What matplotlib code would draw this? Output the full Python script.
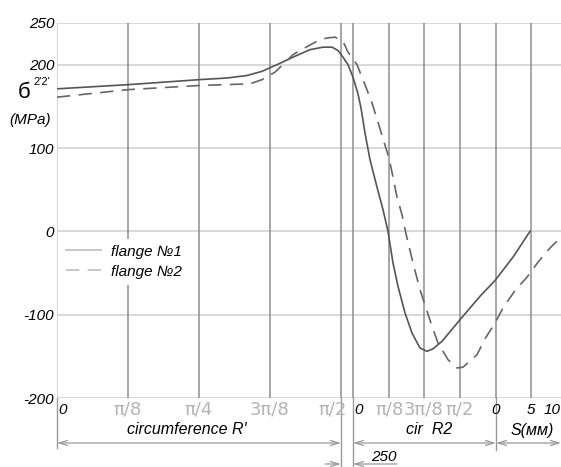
import numpy as np
import matplotlib
matplotlib.use('Agg')
from matplotlib import pyplot as plt
from matplotlib.lines import Line2D
import matplotlib.transforms as mtransforms

plt.rcParams['font.family'] = ['Liberation Sans', 'DejaVu Sans']

# x axis is a drawing length (px of the original sheet), 0 = start of circumference R'
grid_x = [0, 71, 142, 213, 284, 296, 332, 367, 403, 439, 474]
y_ticks = [250, 200, 100, 0, -100, -200]

# flange No1 (solid)
x1 = [0, 71, 142, 170, 190, 205, 220, 236, 253, 266, 275, 281, 286, 291, 296, 301, 304, 308,
      313, 320, 326, 331, 336, 341, 348, 355, 363, 370, 376, 385, 403, 423, 438, 456, 473]
y1 = [171, 176, 182, 184, 187, 192, 200, 209, 218, 221, 221, 217, 209, 200, 185, 165, 148,
      118, 86, 53, 26, 0, -38, -66, -98, -122, -140, -144, -141, -132, -106, -78, -59, -31, 0]

# flange No2 (dashed)
x2 = [0, 71, 142, 193, 205, 218, 236, 246, 263, 270, 278, 286, 291, 300, 308, 315, 321,
      326, 332, 336, 340, 345, 349, 356, 363, 369, 375, 381, 391, 400, 406, 420, 428,
      438, 446, 458, 470, 481, 493, 504]
y2 = [161, 170, 175, 177, 182, 191, 212, 219, 230, 232, 233, 228, 215, 200, 176, 154, 131,
      111, 88, 65, 41, 20, -3, -38, -70, -92, -114, -134, -154, -164, -163, -148, -129,
      -110, -92, -71, -55, -37, -20, -7]

bottom_labels = ['0', 'π/8', 'π/4', '3π/8', 'π/2', '0', 'π/8', '3π/8', 'π/2', '0', '5', '10']
label_x = [1, 71, 142, 213, 276, 297, 332, 367, 403, 439, 474, 504]
label_ha = ['left', 'center', 'center', 'center', 'center', 'left', 'center', 'center',
            'center', 'center', 'center', 'right']

W, H = 561, 467
fig = plt.figure(figsize=(W / 100, H / 100), dpi=100)
ax = fig.add_axes([57 / W, (H - 398) / H, 504 / W, 375 / H])
ax.set_xlim(0, 504)
ax.set_ylim(-200, 250)

for s in ax.spines.values():
    s.set_visible(False)

for yv in y_ticks:
    ax.axhline(yv, color='#d2d2d2', lw=1.2, zorder=1)
ax.axvline(0, color='#cfcfcf', lw=1.2, zorder=1)
for xv in grid_x[1:]:
    ax.axvline(xv, color='#8e8e8e', lw=1.1, zorder=1)

ax.plot(x1, y1, color='#555555', lw=1.2, zorder=3)
ax.plot(x2, y2, color='#666666', lw=1.2, ls=(0, (8, 5)), zorder=3)

ax.set_yticks(y_ticks)
ax.set_yticklabels([str(v) for v in y_ticks], fontstyle='italic', fontsize=11)
ax.tick_params(axis='y', length=0, pad=2)
ax.set_xticks([])

handles = [Line2D([], [], color='#bdbdbd', lw=1.2),
           Line2D([], [], color='#bdbdbd', lw=1.2, ls=(0, (8, 5)))]
leg = ax.legend(handles, ['flange №1', 'flange №2'], loc='upper left',
                bbox_to_anchor=(0.005, 0.425), borderaxespad=0, frameon=True,
                fancybox=False, edgecolor='none', facecolor='white', framealpha=1,
                handlelength=2.3, handletextpad=0.7, labelspacing=0.4,
                prop={'style': 'italic', 'size': 11})
leg.set_zorder(5)

trans = mtransforms.blended_transform_factory(ax.transData, ax.transAxes)


def ay(p):
    return (398 - p) / 375


for lab, lx, ha in zip(bottom_labels, label_x, label_ha):
    if 'π' in lab:
        ax.text(lx, ay(410), lab, transform=trans, ha=ha, va='center', fontsize=13,
                color='#b4b4b4', family='DejaVu Sans', clip_on=False)
    else:
        ax.text(lx, ay(410), lab, transform=trans, ha=ha, va='center', fontsize=11,
                fontstyle='italic', color='black', clip_on=False)

ax.text(130, ay(430), "circumference R'", transform=trans, ha='center', va='center',
        fontsize=11.5, fontstyle='italic', clip_on=False)
ax.text(372, ay(430), "cir  R2", transform=trans, ha='center', va='center',
        fontsize=11.5, fontstyle='italic', clip_on=False)
ax.text(475, ay(430), "S(мм)", transform=trans, ha='center', va='center',
        fontsize=11.5, fontstyle='italic', clip_on=False)
ax.text(327, ay(457), "250", transform=trans, ha='center', va='center',
        fontsize=11, fontstyle='italic', clip_on=False)

# extension lines
dim_col = '#9a9a9a'
for xv, yb in [(0, 448), (284, 470), (296, 470), (439, 450)]:
    ax.plot([xv, xv], [ay(398), ay(yb)], transform=trans, color=dim_col, lw=1.0,
            clip_on=False)

arrow = dict(arrowstyle='<->,head_length=0.6,head_width=0.18', color=dim_col, lw=0.9,
             shrinkA=0, shrinkB=0)
for xa, xb in [(0, 284), (296, 439), (439, 504)]:
    ax.annotate('', xy=(xb, ay(443)), xytext=(xa, ay(443)), xycoords=trans,
                textcoords=trans, arrowprops=arrow, annotation_clip=False)

one = dict(arrowstyle='->,head_length=0.6,head_width=0.18', color=dim_col, lw=0.9,
           shrinkA=0, shrinkB=0)
ax.annotate('', xy=(284, ay(464)), xytext=(268, ay(464)), xycoords=trans,
            textcoords=trans, arrowprops=one, annotation_clip=False)
ax.annotate('', xy=(296, ay(464)), xytext=(340, ay(464)), xycoords=trans,
            textcoords=trans, arrowprops=one, annotation_clip=False)

# y axis label
fig.text(24 / W, 1 - 93 / H, 'б', fontsize=16, ha='center', va='center')
fig.text(33 / W, 1 - 82 / H, "2'2'", fontsize=8, ha='left', va='center')
fig.text(30 / W, 1 - 120 / H, '(MPa)', fontsize=11, fontstyle='italic',
         ha='center', va='center')

fig.savefig('out.png', dpi=100)
